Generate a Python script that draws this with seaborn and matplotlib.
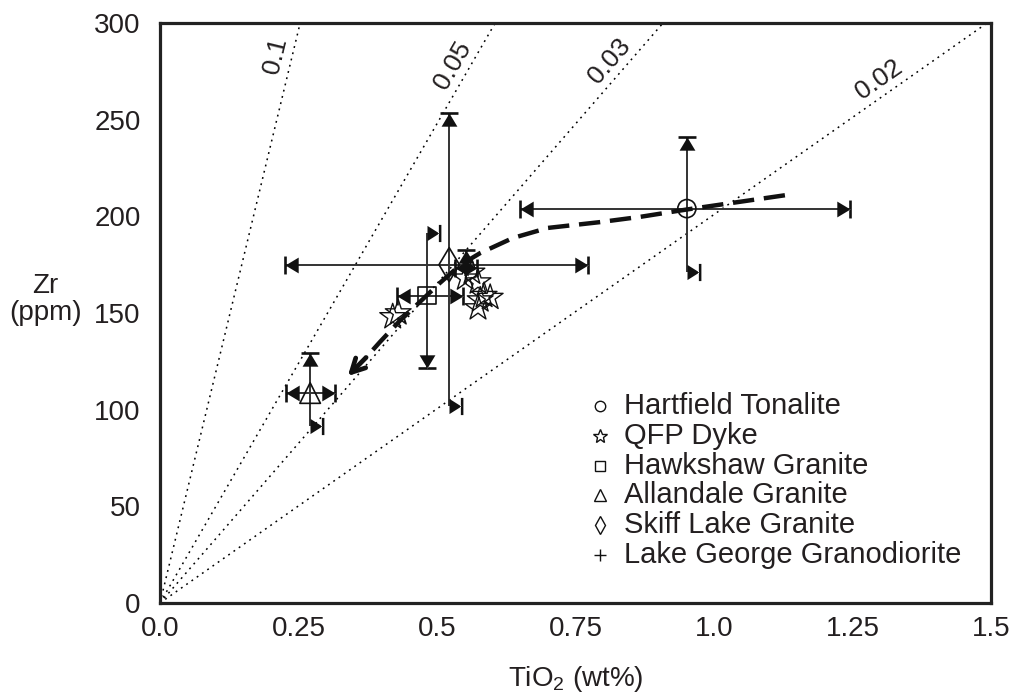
import numpy as np
import pandas as pd
import matplotlib
matplotlib.use("Agg")
import matplotlib.pyplot as plt
import seaborn as sns
from matplotlib.path import Path
from matplotlib.markers import MarkerStyle

sns.set_theme(style="white")
plt.rcParams['font.family'] = ['Liberation Sans', 'DejaVu Sans']
plt.rcParams['mathtext.fontset'] = 'custom'
plt.rcParams['mathtext.rm'] = 'Liberation Sans'
plt.rcParams['mathtext.it'] = 'Liberation Sans'

# ---------------- data ----------------
ref_labels = ["0.1", "0.05", "0.03", "0.02"]
ref_tio2_at_300 = [0.253, 0.605, 0.908, 1.493]   # TiO2 where each ratio line reaches Zr = 300
ref_label_zr = [281, 274, 275, 264]

groups = ["Hartfield Tonalite", "Hawkshaw Granite", "Allandale Granite",
          "Skiff Lake Granite", "Lake George Granodiorite"]
grp_tio2 = [0.951, 0.482, 0.271, 0.522, 0.552]
grp_zr = [204, 159, 108.6, 175, 173.3]
grp_tio2_lo = [0.65, 0.428, 0.227, 0.226, 0.532]
grp_tio2_hi = [1.245, 0.547, 0.316, 0.773, 0.572]
grp_zr_lo = [171, 121.6, 91.6, 102, 165]
grp_zr_hi = [241, 191.4, 129.3, 253.5, 182.6]
grp_top_cap = ["up", "side", "up", "up", "up"]
grp_bot_cap = ["side", "down", "side", "side", "none"]

qfp_tio2 = [0.42, 0.43, 0.551, 0.563, 0.574, 0.585, 0.596, 0.574, 0.578]
qfp_zr = [148, 150, 168, 171, 166, 159, 158, 152.6, 156.7]

curve_tio2 = [1.128, 0.95, 0.866, 0.794, 0.70, 0.637, 0.578, 0.542, 0.505, 0.469, 0.433, 0.397, 0.372]
curve_zr = [210.9, 203.5, 199.7, 197.0, 194.0, 188.8, 181.0, 174.8, 165.5, 155.7, 146.0, 135.0, 127.0]
arrow_tip = (0.339, 117.4)

legend_labels = ["Hartfield Tonalite", "QFP Dyke", "Hawkshaw Granite",
                 "Allandale Granite", "Skiff Lake Granite", "Lake George Granodiorite"]
legend_markers = ["o", "*", "s", "^", "d", "+"]

xticks = [0.0, 0.25, 0.5, 0.75, 1.0, 1.25, 1.5]
xticklabels = ["0.0", "0.25", "0.5", "0.75", "1.0", "1.25", "1.5"]
yticks = [0, 50, 100, 150, 200, 250, 300]

# ---------------- figure ----------------
fig = plt.figure(figsize=(10.13, 6.93), dpi=100)
ax = fig.add_axes([160 / 1013, 90 / 693, 831 / 1013, 580 / 693])
ax.set_xlim(0, 1.5)
ax.set_ylim(0, 300)
ink = "#231f20"

# ratio reference lines
for lab, xt in zip(ref_labels, ref_tio2_at_300):
    sns.lineplot(x=[0, xt], y=[0, 300], ax=ax, color="black", lw=1.1,
                 linestyle=(0, (1.2, 3.0)), estimator=None, sort=False, zorder=1)

fig.canvas.draw()
for lab, xt, zl in zip(ref_labels, ref_tio2_at_300, ref_label_zr):
    p0 = ax.transData.transform((0, 0))
    p1 = ax.transData.transform((xt, 300))
    ang = np.degrees(np.arctan2(p1[1] - p0[1], p1[0] - p0[0]))
    px = xt * zl / 300
    nx, ny = -np.sin(np.radians(ang)), np.cos(np.radians(ang))
    d = 11.5
    ax.annotate(lab, xy=(px, zl), xytext=(nx * d, ny * d), textcoords="offset points",
                rotation=ang, rotation_mode="anchor", ha="center", va="center",
                fontsize=19, color=ink)

# error bars
for i in range(len(groups)):
    x, y = grp_tio2[i], grp_zr[i]
    ax.errorbar([x], [y],
                xerr=[[x - grp_tio2_lo[i]], [grp_tio2_hi[i] - x]],
                yerr=[[y - grp_zr_lo[i]], [grp_zr_hi[i] - y]],
                fmt="none", ecolor="#333333", elinewidth=1.4, capsize=0, zorder=2)

# cap markers (triangle + bar)
def cap_path(kind):
    if kind == "right":
        tri = [(-1.0, -0.6), (-1.0, 0.6), (0.0, 0.0), (-1.0, -0.6)]
        bar = [(-0.1, -0.68), (0.1, -0.68), (0.1, 0.68), (-0.1, 0.68), (-0.1, -0.68)]
    elif kind == "left":
        tri = [(1.0, -0.6), (1.0, 0.6), (0.0, 0.0), (1.0, -0.6)]
        bar = [(-0.1, -0.68), (0.1, -0.68), (0.1, 0.68), (-0.1, 0.68), (-0.1, -0.68)]
    elif kind == "up":
        tri = [(-0.6, -1.0), (0.6, -1.0), (0.0, 0.0), (-0.6, -1.0)]
        bar = [(-0.68, -0.1), (0.68, -0.1), (0.68, 0.1), (-0.68, 0.1), (-0.68, -0.1)]
    elif kind == "down":
        tri = [(-0.6, 1.0), (0.6, 1.0), (0.0, 0.0), (-0.6, 1.0)]
        bar = [(-0.68, -0.1), (0.68, -0.1), (0.68, 0.1), (-0.68, 0.1), (-0.68, -0.1)]
    else:  # side: right-pointing triangle + bar placed at a vertical line end
        tri = [(0.0, -0.6), (0.0, 0.6), (0.95, 0.0), (0.0, -0.6)]
        bar = [(0.9, -0.68), (1.1, -0.68), (1.1, 0.68), (0.9, 0.68), (0.9, -0.68)]
    verts = tri + bar
    codes = ([Path.MOVETO] + [Path.LINETO] * 2 + [Path.CLOSEPOLY] +
             [Path.MOVETO] + [Path.LINETO] * 3 + [Path.CLOSEPOLY])
    return Path(verts, codes)

cap_ms = {"right": 19, "left": 19, "up": 19, "down": 19, "side": 20}

def draw_cap(x, y, kind):
    if kind == "none":
        return
    ax.plot([x], [y], linestyle="none", marker=MarkerStyle(cap_path(kind)),
            markersize=cap_ms[kind], color="#111111", markeredgewidth=0, zorder=4)

for i in range(len(groups)):
    draw_cap(grp_tio2_lo[i], grp_zr[i], "left")
    draw_cap(grp_tio2_hi[i], grp_zr[i], "right")
    draw_cap(grp_tio2[i], grp_zr_hi[i], grp_top_cap[i])
    draw_cap(grp_tio2[i], grp_zr_lo[i], grp_bot_cap[i])

# points
pt_df = pd.DataFrame({"TiO2": grp_tio2, "Zr": grp_zr, "group": groups})
mk = {"Hartfield Tonalite": "o", "Hawkshaw Granite": "s", "Allandale Granite": "^",
      "Skiff Lake Granite": "d", "Lake George Granodiorite": "+"}
sizes = {"Hartfield Tonalite": 170, "Hawkshaw Granite": 160, "Allandale Granite": 220,
         "Skiff Lake Granite": 300, "Lake George Granodiorite": 170}
for g in groups:
    sub = pt_df[pt_df.group == g]
    if mk[g] == "+":
        sns.scatterplot(data=sub, x="TiO2", y="Zr", ax=ax, marker="+", s=sizes[g],
                        color="#111111", linewidth=1.3, zorder=5)
    else:
        sns.scatterplot(data=sub, x="TiO2", y="Zr", ax=ax, marker=mk[g], s=sizes[g],
                        facecolor="none", edgecolor="#111111", linewidth=1.2, zorder=5)

qdf = pd.DataFrame({"TiO2": qfp_tio2, "Zr": qfp_zr})
sns.scatterplot(data=qdf, x="TiO2", y="Zr", ax=ax, marker="*", s=380,
                facecolor="none", edgecolor="#111111", linewidth=1.0, zorder=5)

# trend curve
sns.lineplot(x=curve_tio2, y=curve_zr, ax=ax, sort=False, estimator=None,
             color="#111111", lw=3.2, linestyle=(0, (4.8, 2.2)), zorder=6)
ax.annotate("", xy=arrow_tip, xytext=(curve_tio2[-1], curve_zr[-1]),
            arrowprops=dict(arrowstyle="->,head_length=0.8,head_width=0.42",
                            lw=3.4, color="#111111", shrinkA=0, shrinkB=0), zorder=6)

# legend (manual)
for k, (lab, m) in enumerate(zip(legend_labels, legend_markers)):
    yy = 0.340 - k * 0.0515
    if m == "+":
        ax.plot([0.529], [yy], transform=ax.transAxes, marker=m, markersize=9,
                color="#111111", markeredgewidth=1.0, linestyle="none")
    else:
        ms = {"o": 7.5, "*": 10, "s": 7.5, "^": 8.5, "d": 9}[m]
        ax.plot([0.529], [yy], transform=ax.transAxes, marker=m, markersize=ms,
                markerfacecolor="none", markeredgecolor="#111111",
                markeredgewidth=1.0, linestyle="none")
    ax.text(0.558, yy, lab, transform=ax.transAxes, ha="left", va="center",
            fontsize=21, color=ink)

# axes styling
ax.set_xticks(xticks)
ax.set_xticklabels(xticklabels)
ax.set_yticks(yticks)
ax.tick_params(axis="both", direction="in", length=7, width=1.4, colors="#222222",
               labelsize=20, labelcolor=ink)
ax.tick_params(axis="y", pad=14)
ax.tick_params(axis="x", pad=9)
for s in ax.spines.values():
    s.set_linewidth(2.3)
    s.set_color("#222222")
ax.set_xlabel("TiO$_2$ (wt%)", fontsize=20, color=ink, labelpad=16)
ax.set_ylabel("")
fig.text(0.045, 0.5685, "Zr\n(ppm)", ha="center", va="center", fontsize=20,
         color=ink, linespacing=1.05)

fig.savefig("out.png", dpi=100)
